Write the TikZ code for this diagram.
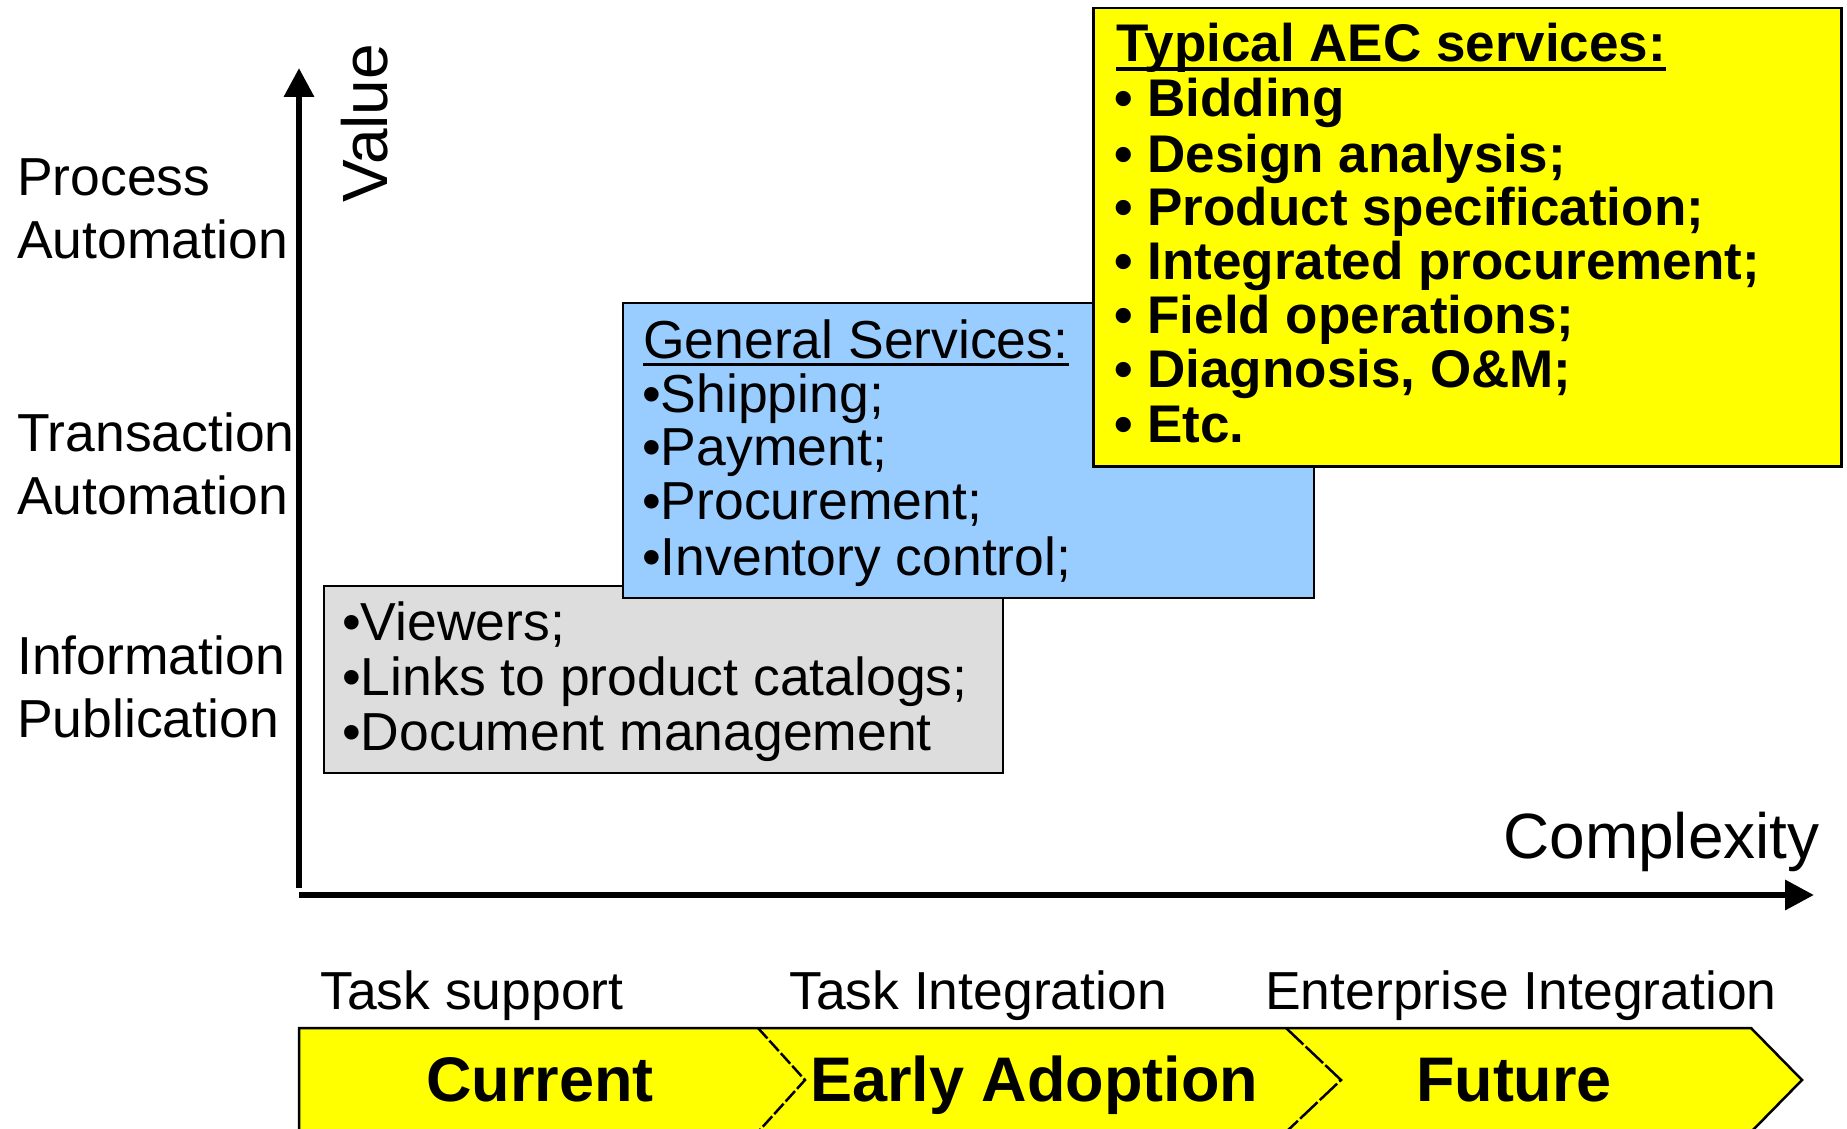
\documentclass[tikz,border=0pt]{standalone}
\usepackage{fontspec}
\setmainfont{Liberation Sans}
\usetikzlibrary{arrows.meta}
\definecolor{aecyellow}{HTML}{FFFF00}
\definecolor{genblue}{HTML}{99CCFF}
\definecolor{infogray}{HTML}{DDDDDD}
\begin{document}
\begin{tikzpicture}[x=1pt,y=-1pt,
  txt/.style={inner sep=0pt, anchor=base west, font=\fontsize{53.5}{55}\selectfont},
  btxt/.style={inner sep=0pt, anchor=base west, font=\fontsize{53}{55}\selectfont\bfseries},
  big/.style={inner sep=0pt, font=\fontsize{64}{66}\selectfont},
  chevtxt/.style={inner sep=0pt, anchor=base, font=\fontsize{63}{66}\selectfont\bfseries},
  axis/.style={line width=6.5pt, -{Triangle[length=29pt,width=29pt]}},
  boxframe/.style={draw=black, line width=2pt, inner sep=0pt, anchor=north west},
]
\useasboundingbox (0,0) rectangle (1847,1129);
\clip (0,0) rectangle (1847,1129);

% axes
\coordinate (ybot) at (299,888);
\coordinate (ytop) at (299,68);
\coordinate (xstart) at (299,895);
\coordinate (xend) at (1814,895);
\draw[axis] (ybot) -- (ytop);
\draw[axis] (xstart) -- (xend);
\node[big, rotate=90, anchor=base west] (value) at (387,203) {Value};
\node[big, anchor=base east] (complexity) at (1820,858) {Complexity};

% left labels
\node[txt] (pa1) at (17,195) {Process};
\node[txt] (pa2) at (17,258) {Automation};
\node[txt] (ta1) at (17,451) {Transaction};
\node[txt] (ta2) at (17,514) {Automation};
\node[txt] (ip1) at (17,674) {Information};
\node[txt] (ip2) at (17,737) {Publication};

% gray box
\node[boxframe, fill=infogray, minimum width=679, minimum height=187] (grayBox) at (323,585) {};
\node[txt] (g1) at (342,640) {•Viewers;};
\node[txt] (g2) at (342,695) {•Links to product catalogs;};
\node[txt] (g3) at (342,750) {•Document management};

% blue box
\node[boxframe, fill=genblue, minimum width=691, minimum height=295] (blueBox) at (622,302) {};
\node[txt] (b0) at (643,358) {General Services:};
\draw[line width=3pt] ([yshift=-6pt]b0.base west) -- ([yshift=-6pt]b0.base east);
\node[txt] (b1) at (642,412) {•Shipping;};
\node[txt] (b2) at (642,465) {•Payment;};
\node[txt] (b3) at (642,519) {•Procurement;};
\node[txt] (b4) at (642,575) {•Inventory control;};

% yellow box
\node[boxframe, fill=aecyellow, line width=2.5pt, minimum width=748, minimum height=458] (aecBox) at (1092,7) {};
\node[btxt] (y0) at (1116,62) {Typical AEC services:};
\draw[line width=4.5pt] ([yshift=-7pt]y0.base west) -- ([yshift=-7pt]y0.base east);
\node[btxt] (y1) at (1114,117) {• Bidding};
\node[btxt] (y2) at (1114,172) {• Design analysis;};
\node[btxt] (y3) at (1114,225) {• Product specification;};
\node[btxt] (y4) at (1114,279) {• Integrated procurement;};
\node[btxt] (y5) at (1114,333) {• Field operations;};
\node[btxt] (y6) at (1114,387) {• Diagnosis, O\&M;};
\node[btxt] (y7) at (1114,442) {• Etc.};

% stage labels
\node[txt] (s1) at (320,1009) {Task support};
\node[txt] (s2) at (789,1009) {Task Integration};
\node[txt] (s3) at (1265,1009) {Enterprise Integration};

% chevrons
\fill[aecyellow] (299,1028) -- (1751,1028) -- (1802,1080) -- (1751,1132) -- (299,1132) -- cycle;
\draw[line width=2.5pt, line join=miter] (299,1135) -- (299,1028) -- (1751,1028) -- (1802,1080) -- (1751,1132);
\draw[line width=2.5pt, dash pattern=on 14pt off 3pt] (758,1028) -- (805,1080) -- (758,1132);
\draw[line width=2.5pt, dash pattern=on 24pt off 3pt] (1286,1028) -- (1341,1080) -- (1286,1132);
\node[chevtxt] (c1) at (540,1101) {Current};
\node[chevtxt] (c2) at (1034,1101) {Early Adoption};
\node[chevtxt] (c3) at (1514,1101) {Future};
\end{tikzpicture}
\end{document}
